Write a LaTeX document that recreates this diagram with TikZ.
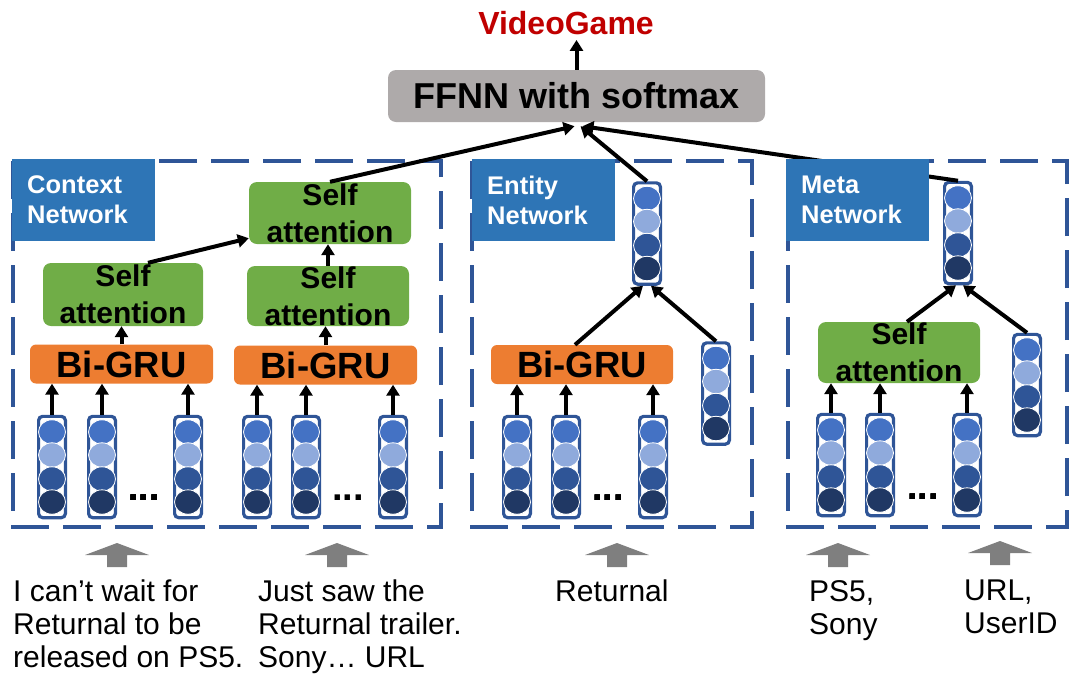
\documentclass[tikz,border=0pt]{standalone}
\usepackage{fontspec}
\setmainfont{Liberation Sans}
\usetikzlibrary{arrows.meta,calc}
\definecolor{NetClr}{HTML}{2E75B6}
\definecolor{FrameClr}{HTML}{2F5597}
\definecolor{GruClr}{HTML}{ED7D31}
\definecolor{AttClr}{HTML}{70AD47}
\definecolor{FfnnClr}{HTML}{AEAAAA}
\definecolor{OutClr}{HTML}{C00000}
\definecolor{InClr}{HTML}{7F7F7F}
\definecolor{VecA}{HTML}{4472C4}
\definecolor{VecB}{HTML}{8FAADC}
\definecolor{VecC}{HTML}{2F5597}
\definecolor{VecD}{HTML}{203864}

\newcommand{\VecCol}[2]{%
  \node[veccol] (#1) at (#2) {};
  \foreach \dy/\clr in {-35/VecA,-12/VecB,12/VecC,35/VecD}
    \filldraw[draw=white,line width=0.8pt,fill=\clr] ($(#1.center)+(0,\dy)$) ellipse [x radius=13.5pt,y radius=12.2pt];
}
\newcommand{\InArrow}[1]{%
  \fill[InClr] ($(#1)+(-10,0)$) -- ++(0,-12) -- ++(-22,0) -- ++(32,-12) -- ++(32,12) -- ++(-22,0) -- ++(0,12) -- cycle;
}

\begin{document}
\begin{tikzpicture}[x=1pt,y=-1pt,
  conn/.style={-{Triangle[length=11pt,width=13pt]},line width=4pt},
  frame/.style={draw=FrameClr,line width=4pt,dash pattern=on 38pt off 14pt},
  netlabel/.style={fill=NetClr,text=white,font=\bfseries\fontsize{25.5}{30}\selectfont,align=left,text width=113pt,inner xsep=15pt,minimum height=82pt,anchor=north west},
  grubox/.style={fill=GruClr,rounded corners=6pt,minimum height=39pt,font=\bfseries\fontsize{36.5}{40}\selectfont},
  attbox/.style={fill=AttClr,rounded corners=8pt,align=center,font=\bfseries\fontsize{30}{37}\selectfont,inner sep=0pt},
  veccol/.style={draw=FrameClr,line width=3.2pt,rounded corners=4pt,fill=white,minimum width=26.8pt,minimum height=101.3pt,inner sep=0pt},
  intxt/.style={align=left,anchor=north west,inner sep=0pt,font=\fontsize{30}{33}\selectfont},
  dots/.style={font=\bfseries\fontsize{38}{38}\selectfont,inner sep=0pt,anchor=base}]
\useasboundingbox (0,0) rectangle (1092,673);

\draw[frame] (13,161) rectangle (441,527);
\draw[frame] (472,161) rectangle (752,527);
\draw[frame] (788,161) rectangle (1067,527);

\node[fill=FfnnClr,rounded corners=8pt,minimum width=377pt,minimum height=52pt,font=\bfseries\fontsize{36}{40}\selectfont] (ffnn) at (576.5,96) {FFNN with softmax};
\node[text=OutClr,inner sep=5pt,font=\bfseries\fontsize{32}{36}\selectfont] (out) at (566,23) {VideoGame};
\draw[conn] (ffnn.north) -- (ffnn.north |- out.south);

% context network
\foreach \i/\x in {1/52,2/102,3/188,4/257,5/306,6/393}
  \VecCol{c\i}{\x,467}
\node[dots] (cdots1) at (144,500) {...};
\node[dots] (cdots2) at (348,500) {...};
\node[grubox,minimum width=183pt] (gru1) at (121.5,364) {Bi-GRU};
\node[grubox,minimum width=183pt] (gru2) at (325.5,365) {Bi-GRU};
\node[attbox,minimum width=160pt,minimum height=63pt] (sa1) at (123,294.5) {Self\\attention};
\node[attbox,minimum width=162pt,minimum height=60pt] (sa2) at (328,296) {Self\\attention};
\node[attbox,minimum width=162pt,minimum height=62pt] (sa3) at (330,213) {Self\\attention};
\foreach \i in {1,2,3}
  \draw[conn] (c\i.north) -- (c\i.north |- gru1.south);
\foreach \i in {4,5,6}
  \draw[conn] (c\i.north) -- (c\i.north |- gru2.south);
\draw[conn] (gru1.north) -- (gru1.north |- sa1.south);
\draw[conn] (gru2.north) -- (gru2.north |- sa2.south);
\draw[conn] (sa2.north) -- (sa2.north |- sa3.south);
\draw[conn] ($(sa1.north)+(25,0)$) -- ($(sa3.south west)+(0,-6)$);
\draw[conn] (sa3.north) -- ($(ffnn.south)+(-2,4)$);

% entity network
\foreach \i/\x in {1/517,2/566,3/653}
  \VecCol{e\i}{\x,467}
\node[dots] (edots) at (608,500) {...};
\node[grubox,minimum width=182pt] (gru3) at (582,364.5) {Bi-GRU};
\VecCol{etop}{647,233.5}
\VecCol{eright}{716,393.5}
\foreach \i in {1,2,3}
  \draw[conn] (e\i.north) -- (e\i.north |- gru3.south);
\draw[conn] ($(gru3.north)+(-7,0)$) -- ($(etop.south)+(-4,0)$);
\draw[conn] (eright.north) -- ($(etop.south)+(4,0)$);
\draw[conn] (etop.north) -- ($(ffnn.south)+(4,4)$);

% meta network
\foreach \i/\x in {1/831,2/880,3/967}
  \VecCol{m\i}{\x,465}
\node[dots] (mdots) at (923,499) {...};
\node[attbox,minimum width=162pt,minimum height=61pt] (sa4) at (899,352.5) {Self\\attention};
\VecCol{mtop}{958,233}
\VecCol{mright}{1027,385}
\foreach \i in {1,2,3}
  \draw[conn] (m\i.north) -- (m\i.north |- sa4.south);
\draw[conn] ($(sa4.north)+(8,0)$) -- ($(mtop.south)+(-2,0)$);
\draw[conn] (mright.north) -- ($(mtop.south)+(5,0)$);
\draw[conn] (mtop.north) -- ($(ffnn.south)+(6,4)$);

\node[netlabel] (ctxlab) at (12,159) {Context\\Network};
\node[netlabel] (entlab) at (472,159) {Entity\\Network};
\node[netlabel] (metalab) at (786,159) {Meta\\Network};

% inputs
\InArrow{117,567}
\InArrow{337,567}
\InArrow{617,567}
\InArrow{838,567}
\InArrow{1000,565}
\node[intxt] (in1) at (13,580) {I can’t wait for\\Returnal to be\\released on PS5.};
\node[intxt] (in2) at (258,580) {Just saw the\\Returnal trailer.\\Sony… URL};
\node[intxt] (in3) at (555,580) {Returnal};
\node[intxt] (in4) at (809,580) {PS5,\\Sony};
\node[intxt] (in5) at (964,580) {URL,\\UserID};

\end{tikzpicture}
\end{document}
